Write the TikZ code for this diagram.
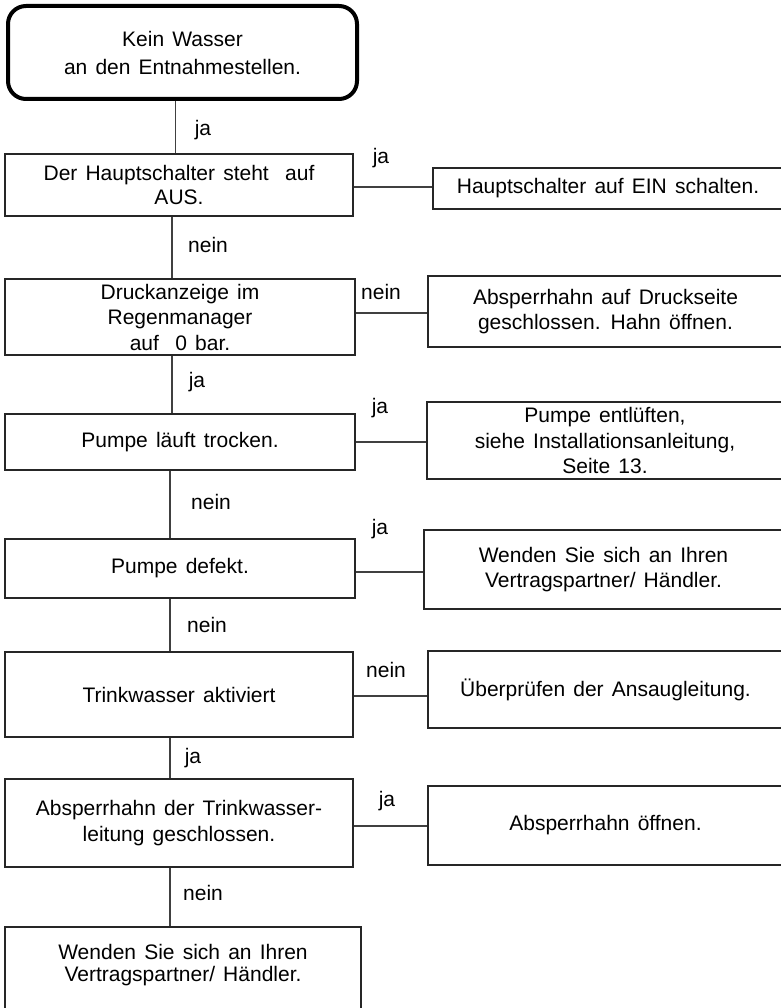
\documentclass[tikz,border=0pt]{standalone}
\usepackage{fontspec}
\setmainfont{Liberation Sans}[WordSpace=1.4]

\begin{document}
\begin{tikzpicture}[x=1pt,y=-1pt,
  every node/.style={font=\fontsize{21}{25.5}\selectfont, inner sep=0pt},
  box/.style 2 args={draw=black!85, line width=1.6pt, rectangle, align=center,
    minimum width=#1, minimum height=#2},
  start/.style={draw=black, line width=4pt, rounded corners=18pt, align=center,
    minimum width=349pt, minimum height=93pt},
  link/.style={draw=black!75, line width=1.3pt}]
\useasboundingbox (0,0) rectangle (780,1008);

\node[start, font=\fontsize{21}{28}\selectfont] (S) at (182.5,52.5) {Kein Wasser\\an den Entnahmestellen.};

\node[box={348pt}{62pt}, font=\fontsize{21}{24}\selectfont] (A) at (179,185) {Der Hauptschalter steht\ \ auf\\AUS.};
\node[box={350pt}{76pt}] (B) at (180,317) {Druckanzeige im\\Regenmanager\\auf\ \ 0 bar.};
\node[box={350pt}{56pt}] (C) at (180,442) {Pumpe läuft trocken.};
\node[box={350pt}{59pt}] (D) at (180,568.5) {Pumpe defekt.};
\node[box={348pt}{85pt}] (E) at (179,694.5) {Trinkwasser aktiviert};
\node[box={348pt}{88pt}] (F) at (179,823) {Absperrhahn der Trinkwasser-\\leitung geschlossen.};
\node[box={356pt}{84pt}, text depth=12pt] (G) at (183,969) {Wenden Sie sich an Ihren\\[-3.5pt]Vertragspartner/ Händler.};

\node[box={350pt}{41pt}] (H) at (608,188.5) {Hauptschalter auf EIN schalten.};
\node[box={355pt}{71pt}] (I) at (605.5,311.5) {Absperrhahn auf Druckseite\\geschlossen. Hahn öffnen.};
\node[box={356pt}{77pt}] (J) at (605,440.5) {Pumpe entlüften,\\siehe Installationsanleitung,\\Seite 13.};
\node[box={359pt}{79pt}] (K) at (603.5,569.5) {Wenden Sie sich an Ihren\\Vertragspartner/ Händler.};
\node[box={355pt}{77pt}] (L) at (605.5,689.5) {Überprüfen der Ansaugleitung.};
\node[box={355pt}{79pt}] (M) at (605.5,825.5) {Absperrhahn öffnen.};

% labels
\node (ja1) at (203,130) {ja};
\node (ja2) at (381,158) {ja};
\node (nein1) at (208,245) {nein};
\node (nein2) at (381,292) {nein};
\node (ja3) at (197,382) {ja};
\node (ja4) at (380,408) {ja};
\node (nein3) at (211,502) {nein};
\node (ja5) at (380,529) {ja};
\node (nein4) at (207,625) {nein};
\node (nein5) at (386,670) {nein};
\node (ja6) at (193,758) {ja};
\node (ja7) at (387,801) {ja};
\node (nein6) at (203,893) {nein};

% down the left column
\draw[link] ([xshift=-7pt]S.south) -- ([xshift=-7pt]S.south |- A.north);
\draw[link] ([xshift=-7pt]A.south) -- ([xshift=-7pt]A.south |- B.north);
\draw[link] ([xshift=-8pt]B.south) -- ([xshift=-8pt]B.south |- C.north);
\draw[link] ([xshift=-10pt]C.south) -- ([xshift=-10pt]C.south |- D.north);
\draw[link] ([xshift=-10pt]D.south) -- ([xshift=-10pt]D.south |- E.north);
\draw[link] ([xshift=-9pt]E.south) -- ([xshift=-9pt]E.south |- F.north);
\draw[link] ([xshift=-9pt]F.south) -- ([xshift=-13pt]G.north);

% across to the right
\draw[link] ([yshift=-2pt]A.east) -- ([yshift=-2pt]A.east -| H.west);
\draw[link] ([yshift=4pt]B.east) -- ([yshift=4pt]B.east -| I.west);
\draw[link] (C.east) -- (C.east -| J.west);
\draw[link] ([yshift=-3.5pt]D.east) -- ([yshift=-3.5pt]D.east -| K.west);
\draw[link] ([yshift=-1.5pt]E.east) -- ([yshift=-1.5pt]E.east -| L.west);
\draw[link] ([yshift=-3pt]F.east) -- ([yshift=-3pt]F.east -| M.west);
\end{tikzpicture}
\end{document}
